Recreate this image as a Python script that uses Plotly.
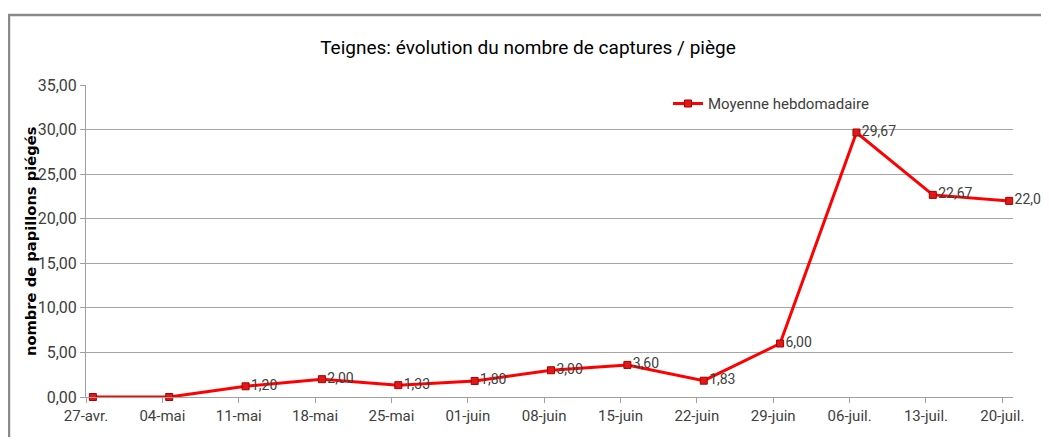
import plotly.graph_objects as go

categories = ["27-avr.", "04-mai", "11-mai", "18-mai", "25-mai", "01-juin", "08-juin",
              "15-juin", "22-juin", "29-juin", "06-juil.", "13-juil.", "20-juil."]
values = [0.0, 0.0, 1.20, 2.00, 1.33, 1.80, 3.00, 3.60, 1.83, 6.00, 29.67, 22.67, 22.00]
series_name = "Moyenne hebdomadaire"
title_text = "Teignes: évolution du nombre de captures / piège"
y_title = "nombre de papillons piégés"
y_ticks = [0, 5, 10, 15, 20, 25, 30, 35]

OFF = 8  # default page body margin
W, H = 1049 - OFF, 445 - 2 * OFF
X0, X1, Y0, Y1 = 86, 1013, 401, 85   # plot area in page pixels
L, T = X0 - OFF, Y1 - OFF
R, B = W - (X1 - OFF), H - (Y0 - OFF)
pw, ph = X1 - X0, Y0 - Y1

point_offset = 0.09  # points sit slightly after each date tick
idx = list(range(len(categories)))
xs = [i + point_offset for i in idx]
labels = ["" if v == 0 else f"{v:.2f}".replace(".", ",") for v in values]

narrow = "Liberation Sans Narrow, Arial Narrow, Roboto, sans-serif"

fig = go.Figure()
fig.add_trace(go.Scatter(
    x=xs, y=values, name=series_name, mode="lines+markers+text",
    line=dict(color="#ff0000", width=3),
    marker=dict(symbol="square", size=7, color="#e01818", line=dict(color="#a80000", width=1)),
    text=labels, textposition="middle right",
    textfont=dict(family=narrow, size=14, color="#404040"),
    cliponaxis=False,
))

def px_x(p):
    return (p - X0) / pw

def px_y(p):
    return (Y0 - p) / ph

fig.update_layout(
    width=W, height=H,
    margin=dict(l=L, r=R, t=T, b=B),
    paper_bgcolor="white", plot_bgcolor="white",
    separators=", ",
    title=dict(text=title_text, x=px_x(528), xanchor="center", xref="paper",
               y=1 - (47 - OFF) / H, yanchor="middle",
               font=dict(family=narrow, size=19, color="#000000")),
    showlegend=True,
    legend=dict(x=px_x(668), y=px_y(104), xanchor="left", yanchor="middle",
                bgcolor="rgba(0,0,0,0)", font=dict(family=narrow, size=15, color="#404040"),
                itemwidth=30),
    xaxis=dict(range=[0, 12.14], tickmode="array", tickvals=idx, ticktext=categories,
               showgrid=False, zeroline=False, showline=True, linecolor="#a0a0a0", linewidth=1,
               ticks="outside", ticklen=5, tickcolor="#a0a0a0",
               tickfont=dict(family=narrow, size=15, color="#404040")),
    yaxis=dict(range=[0, 35], tickvals=y_ticks, tickformat=".2f",
               showgrid=True, gridcolor="#a6a6a6", gridwidth=1, zeroline=False,
               showline=True, linecolor="#a0a0a0", linewidth=1,
               ticks="outside", ticklen=5, tickcolor="#a0a0a0",
               tickfont=dict(family=narrow, size=16, color="#404040")),
    annotations=[dict(text=y_title, textangle=-90, xref="paper", yref="paper",
                      x=px_x(30), y=px_y(243), xanchor="center", yanchor="middle",
                      showarrow=False,
                      font=dict(family="DejaVu Sans, sans-serif", size=14.7,
                                color="#000000", weight="bold"))],
    shapes=[dict(type="rect", xref="paper", yref="paper",
                 x0=px_x(OFF + 1), x1=px_x(1080), y0=px_y(480), y1=px_y(14),
                 line=dict(color="#8a8a8a", width=2.5), fillcolor="rgba(0,0,0,0)", layer="below")],
)

fig.write_html("out.html")
